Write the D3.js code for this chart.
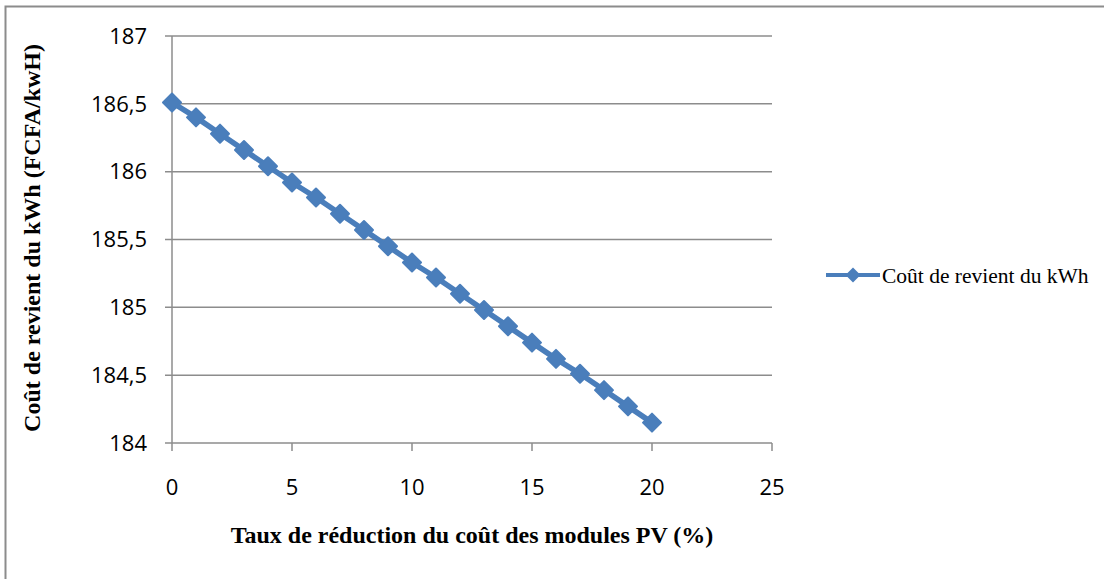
<!DOCTYPE html>
<html><head><meta charset="utf-8">
<script src="https://cdn.jsdelivr.net/npm/d3@7"></script>
<style>body{margin:0;background:#fff}svg{display:block}</style>
</head><body>
<svg id="c" width="1104" height="579"></svg>
<script>
const xValues = [0,1,2,3,4,5,6,7,8,9,10,11,12,13,14,15,16,17,18,19,20];
const costValues = [186.51,186.40,186.28,186.16,186.04,185.92,185.81,185.69,185.57,185.45,185.33,185.22,185.10,184.98,184.86,184.74,184.62,184.51,184.39,184.27,184.15];
const xTicks = [0,5,10,15,20,25];
const yTicks = [184,184.5,185,185.5,186,186.5,187];
const seriesName = "Coût de revient du kWh";
const xTitle = "Taux de réduction du coût des modules PV (%)";
const yTitle = "Coût de revient du kWh (FCFA/kwH)";

const svg = d3.select("#c");
const L=172, R=772, T=36, B=443;
const x = d3.scaleLinear().domain([0,25]).range([L,R]);
const y = d3.scaleLinear().domain([184,187]).range([B,T]);
const grey = "#8c8c8c";
const blue = "#4a7ebb";

// outer border
svg.append("rect").attr("x",5.5).attr("y",6.5).attr("width",1110).attr("height",600)
  .attr("fill","none").attr("stroke",grey).attr("stroke-width",2);

// horizontal gridlines
svg.append("g").selectAll("line").data(yTicks).join("line")
  .attr("x1",L-7).attr("x2",R).attr("y1",d=>y(d)).attr("y2",d=>y(d))
  .attr("stroke",grey).attr("stroke-width",1.5);

// y axis line
svg.append("line").attr("x1",L).attr("x2",L).attr("y1",T).attr("y2",B)
  .attr("stroke",grey).attr("stroke-width",1.5);
// x tick marks
svg.append("g").selectAll("line").data(xTicks).join("line")
  .attr("x1",d=>x(d)).attr("x2",d=>x(d)).attr("y1",B).attr("y2",B+8)
  .attr("stroke",grey).attr("stroke-width",1.5);

const fmt = d => String(d).replace(".", ",");
svg.append("g").selectAll("text").data(yTicks).join("text")
  .attr("x",L-25).attr("y",d=>y(d)).attr("dy","0.35em").attr("text-anchor","end")
  .attr("font-family","'Open Sans', sans-serif").attr("font-size",22).attr("fill","#000")
  .text(fmt);
svg.append("g").selectAll("text").data(xTicks).join("text")
  .attr("x",d=>x(d)).attr("y",B+44).attr("dy","0.35em").attr("text-anchor","middle")
  .attr("font-family","'Open Sans', sans-serif").attr("font-size",22).attr("fill","#000")
  .text(fmt);

// titles
svg.append("text").attr("x",472).attr("y",543).attr("text-anchor","middle")
  .attr("font-family","'Liberation Serif', serif").attr("font-weight","bold").attr("font-size",24)
  .text(xTitle);
svg.append("text").attr("transform","translate(40,238) rotate(-90)").attr("text-anchor","middle")
  .attr("font-family","'Liberation Serif', serif").attr("font-weight","bold").attr("font-size",24)
  .text(yTitle);

const data = xValues.map((v,i)=>({x:v,y:costValues[i]}));
svg.append("path").datum(data)
  .attr("d", d3.line().x(d=>x(d.x)).y(d=>y(d.y)))
  .attr("fill","none").attr("stroke",blue).attr("stroke-width",5.5);

const diamond = (cx,cy,h) => `M${cx},${cy-h}L${cx+h},${cy}L${cx},${cy+h}L${cx-h},${cy}Z`;
svg.append("g").selectAll("path").data(data).join("path")
  .attr("d",d=>diamond(x(d.x),y(d.y),9))
  .attr("fill",blue).attr("stroke",blue).attr("stroke-width",2).attr("stroke-linejoin","round");

// legend
const ly = 275;
svg.append("line").attr("x1",826).attr("x2",880).attr("y1",ly).attr("y2",ly)
  .attr("stroke",blue).attr("stroke-width",4);
svg.append("path").attr("d",diamond(853,ly,7.5)).attr("fill",blue);
svg.append("text").attr("x",882).attr("y",ly).attr("dy","0.35em")
  .attr("font-family","'Liberation Serif', serif").attr("font-size",21.5).text(seriesName);
</script>
</body></html>
